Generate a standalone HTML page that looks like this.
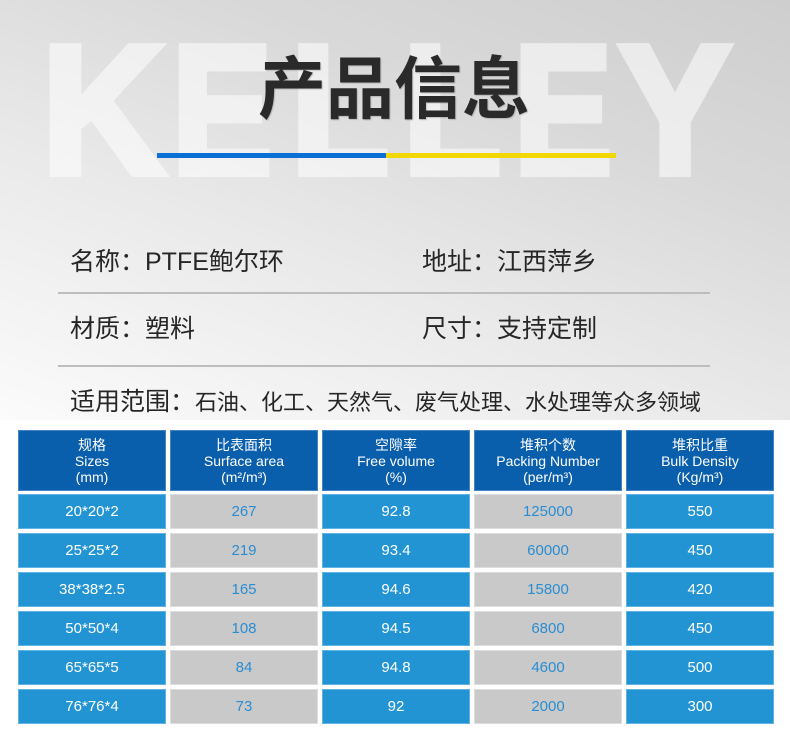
<!DOCTYPE html>
<html>
<head>
<meta charset="utf-8">
<style>
  html,body{margin:0;padding:0;}
  body{width:790px;height:734px;position:relative;overflow:hidden;background:#ffffff;
    font-family:"Liberation Sans","Noto Sans CJK SC",sans-serif;}
  .top{position:absolute;left:0;top:0;width:790px;height:420px;
    background:linear-gradient(200deg,#cecece 0%,#d9d9d9 30%,#e9e9e9 60%,#fbfbfb 100%);}
  .kel{position:absolute;left:0;top:0;}
  .title{position:absolute;left:194px;width:400px;top:56px;height:68px;line-height:68px;text-align:center;
    font-family:"Liberation Sans","Noto Sans CJK SC",sans-serif;font-weight:bold;font-size:68px;color:#2a2a2a;
    text-shadow:1px 1px 1px rgba(0,0,0,0.18);}
  .bl{position:absolute;top:153px;height:5px;}
  .info{position:absolute;font-family:"Liberation Sans","Noto Sans CJK SC",sans-serif;font-size:25px;color:#262626;
    line-height:34px;height:34px;white-space:nowrap;}
  .info small{font-size:22px;}
  .sep{position:absolute;left:58px;width:652px;height:2px;background:#bdbdbd;}
  .c{position:absolute;width:148px;text-align:center;box-sizing:border-box;
    font-family:"Liberation Sans","Noto Sans CJK SC",sans-serif;}
  .h{top:430px;height:61px;background:#0a5fac;color:#fff;font-size:14px;line-height:16px;padding-top:7px;
    box-shadow:inset 0 0 0 1px rgba(140,180,230,0.45);}
  .b{background:#2294d4;color:#fff;font-size:15px;height:35px;line-height:35px;
    box-shadow:inset 0 0 0 1px rgba(160,210,245,0.5);}
  .g{background:#c9c9c9;color:#2a8dd3;font-size:15px;height:35px;line-height:35px;
    box-shadow:inset 0 0 0 1px rgba(235,235,235,0.6);}
</style>
</head>
<body>
<div class="top"></div>
<svg class="kel" width="790" height="200" xmlns="http://www.w3.org/2000/svg">
  <g opacity="0.55" font-family="Liberation Sans, sans-serif" font-weight="bold" font-size="183" fill="#ffffff" stroke="#ffffff" stroke-width="8" stroke-linejoin="miter">
    <text x="103" y="173" text-anchor="middle" textLength="122" lengthAdjust="spacingAndGlyphs">K</text>
    <text x="222" y="173" text-anchor="middle" textLength="100" lengthAdjust="spacingAndGlyphs">E</text>
    <text x="340" y="173" text-anchor="middle" textLength="98" lengthAdjust="spacingAndGlyphs">L</text>
    <text x="452" y="173" text-anchor="middle" textLength="98" lengthAdjust="spacingAndGlyphs">L</text>
    <text x="563" y="173" text-anchor="middle" textLength="98" lengthAdjust="spacingAndGlyphs">E</text>
    <text x="675" y="173" text-anchor="middle" textLength="112" lengthAdjust="spacingAndGlyphs">Y</text>
  </g>
</svg>
<div class="title">产品信息</div>
<div class="bl" style="left:157px;width:229px;background:#0a70d5;"></div>
<div class="bl" style="left:386px;width:230px;background:#f3d700;"></div>

<div class="info" style="left:70px;top:245px;">名称：PTFE鲍尔环</div>
<div class="info" style="left:422px;top:245px;">地址：江西萍乡</div>
<div class="sep" style="top:292px;"></div>
<div class="info" style="left:70px;top:312px;">材质：塑料</div>
<div class="info" style="left:422px;top:312px;">尺寸：支持定制</div>
<div class="sep" style="top:365px;"></div>
<div class="info" style="left:70px;top:385px;">适用范围：<small>石油、化工、天然气、废气处理、水处理等众多领域</small></div>

<!-- header -->
<div class="c h" style="left:18px;">规格<br>Sizes<br>(mm)</div>
<div class="c h" style="left:170px;">比表面积<br>Surface area<br>(m²/m³)</div>
<div class="c h" style="left:322px;">空隙率<br>Free volume<br>(%)</div>
<div class="c h" style="left:474px;">堆积个数<br>Packing Number<br>(per/m³)</div>
<div class="c h" style="left:626px;">堆积比重<br>Bulk Density<br>(Kg/m³)</div>

<!-- rows -->
<div class="c b" style="left:18px;top:494px;">20*20*2</div>
<div class="c g" style="left:170px;top:494px;">267</div>
<div class="c b" style="left:322px;top:494px;">92.8</div>
<div class="c g" style="left:474px;top:494px;">125000</div>
<div class="c b" style="left:626px;top:494px;">550</div>

<div class="c b" style="left:18px;top:533px;">25*25*2</div>
<div class="c g" style="left:170px;top:533px;">219</div>
<div class="c b" style="left:322px;top:533px;">93.4</div>
<div class="c g" style="left:474px;top:533px;">60000</div>
<div class="c b" style="left:626px;top:533px;">450</div>

<div class="c b" style="left:18px;top:572px;">38*38*2.5</div>
<div class="c g" style="left:170px;top:572px;">165</div>
<div class="c b" style="left:322px;top:572px;">94.6</div>
<div class="c g" style="left:474px;top:572px;">15800</div>
<div class="c b" style="left:626px;top:572px;">420</div>

<div class="c b" style="left:18px;top:611px;">50*50*4</div>
<div class="c g" style="left:170px;top:611px;">108</div>
<div class="c b" style="left:322px;top:611px;">94.5</div>
<div class="c g" style="left:474px;top:611px;">6800</div>
<div class="c b" style="left:626px;top:611px;">450</div>

<div class="c b" style="left:18px;top:650px;">65*65*5</div>
<div class="c g" style="left:170px;top:650px;">84</div>
<div class="c b" style="left:322px;top:650px;">94.8</div>
<div class="c g" style="left:474px;top:650px;">4600</div>
<div class="c b" style="left:626px;top:650px;">500</div>

<div class="c b" style="left:18px;top:689px;">76*76*4</div>
<div class="c g" style="left:170px;top:689px;">73</div>
<div class="c b" style="left:322px;top:689px;">92</div>
<div class="c g" style="left:474px;top:689px;">2000</div>
<div class="c b" style="left:626px;top:689px;">300</div>
</body>
</html>
